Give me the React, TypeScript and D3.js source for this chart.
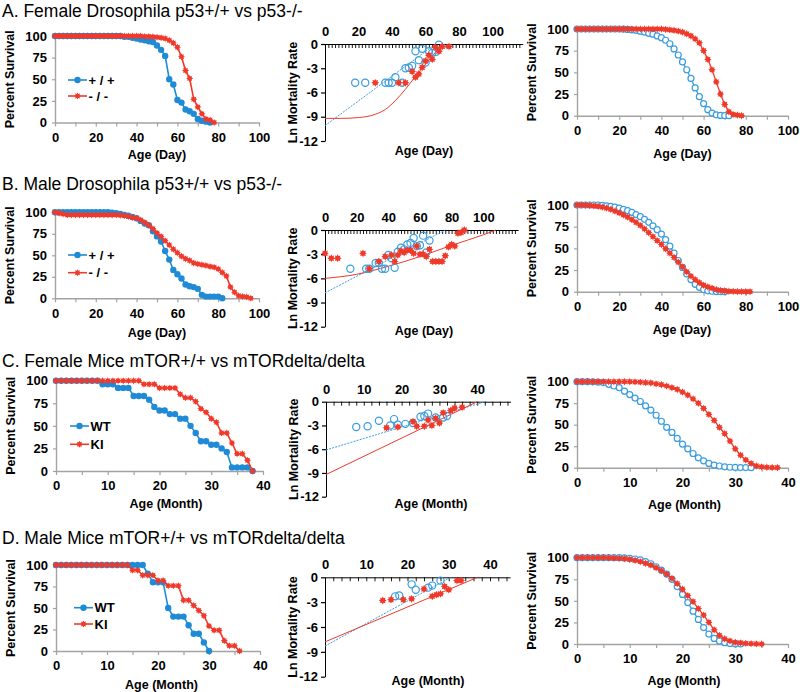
import { useRef, useEffect } from "react";
import * as d3 from "d3";

const BLUE = "#1f8ad6";
const LIGHT_BLUE = "#3a9de0";
const RED = "#ef3a2b";
const AXIS_GRAY = "#a3a3a3";
const FONT = "'Liberation Sans', Arial, Helvetica, sans-serif";

// ---- row titles and labels ----
const rowTitles = [
  "A. Female Drosophila p53+/+ vs p53-/-",
  "B. Male Drosophila p53+/+ vs p53-/-",
  "C. Female Mice mTOR+/+ vs mTORdelta/delta",
  "D. Male Mice mTOR+/+ vs mTORdelta/delta",
];
const flyLegend = ["+ / +", "- / -"];
const miceLegend = ["WT", "KI"];
const dayLabel = "Age (Day)";
const monthLabel = "Age (Month)";
const survivalTicks = [0, 25, 50, 75, 100];
const lnTicks = [0, -3, -6, -9, -12];

// sampling interval of the survival series (days for flies, months for mice)
const flyStep = 2;
const miceStep = 1;

// ---- Kaplan-Meier survival (left column), percent ----
const flyFemaleWtKM = [
  100, 100, 100, 100, 100, 100, 100, 100, 100, 100, 100, 100, 100, 100, 100, 100, 100,
  99, 99, 98, 97, 96, 95, 94, 93, 89, 84, 77, 50, 44, 26, 23, 15, 13, 10, 4, 2, 1, 0,
];
const flyFemaleKoKM = [
  100, 100, 100, 100, 100, 100, 100, 100, 100, 100, 100, 100, 100, 100, 100, 100, 100, 100, 100, 100, 100, 100,
  99.5, 99.5, 99, 98.5, 98, 97, 95, 92, 87, 76, 60, 51, 27, 18, 10, 4, 3, 0,
];
const flyMaleWtKM = [
  100, 100, 100, 100, 100, 100, 100, 100, 100, 100, 100, 100, 100, 100,
  99.5, 99, 98, 97, 96, 94.5, 93, 90, 87, 85, 78, 72, 66, 55, 45, 33, 28, 23, 16, 14, 13, 11, 4, 2, 2, 2, 2, 0,
];
const flyMaleKoKM = [
  100, 99, 98, 97, 97, 97, 97, 97, 97, 97, 97, 97, 97, 97, 97, 97,
  96.5, 96, 95, 94, 93, 91, 88, 85, 81, 76, 72, 67, 62, 57, 53, 49, 46, 44, 41, 40, 39, 38, 37, 36, 34, 30, 26, 13, 7, 3, 2, 1.5, 0,
];
const miceFemaleWtKM = [
  100, 100, 100, 100, 100, 100, 100, 100, 100, 96, 96, 96, 92, 92, 92, 83, 83, 83, 79, 71,
  67, 67, 63, 63, 58, 58, 50, 42, 33, 33, 29, 29, 25, 21, 4, 4, 4, 4, 0,
];
const miceFemaleKoKM = [
  100, 100, 100, 100, 100, 100, 100, 100, 100, 100, 100, 100, 100, 100, 100, 100, 100, 96, 96, 96,
  92, 92, 92, 92, 85, 81, 81, 77, 69, 65, 58, 54, 42, 42, 31, 19, 19, 12, 0,
];
const miceMaleWtKM = [
  100, 100, 100, 100, 100, 100, 100, 100, 100, 100, 100, 100, 100, 100, 100, 100, 100, 100,
  90, 80, 80, 80, 50, 40, 40, 40, 30, 20, 20, 10, 0,
];
const miceMaleKoKM = [
  100, 100, 100, 100, 100, 100, 100, 100, 100, 100, 100, 100, 100, 100, 100,
  94, 94, 88, 88, 88, 82, 82, 76, 76, 76, 59, 59, 53, 47, 41, 29, 24, 24, 12, 6, 6, 0,
];

// ---- fitted survival (right column), percent ----
const flyFemaleWtFit = [
  100, 100, 100, 100, 100, 100, 100, 100, 100, 100, 100,
  99.8, 99.5, 99, 98.5, 97.5, 96.5, 95, 94, 92, 90, 87, 83, 77, 70, 62, 53, 43, 32, 22, 14, 7, 3, 1, 0.3, 0, 0,
];
const flyFemaleKoFit = [
  100, 100, 100, 100, 100, 100, 100, 100, 100, 100, 100, 100, 100, 100, 100, 100, 100, 100, 100, 100, 100,
  99.5, 99, 98.5, 97.5, 96.5, 94.5, 92, 88.5, 84, 75, 65, 53, 39, 25, 13, 4.5, 1.5, 0.8, 0,
];
const flyMaleWtFit = [
  100, 100, 100, 100, 100, 100,
  99.5, 99, 98.5, 97.5, 96.5, 95, 93.5, 91.5, 89, 86.5, 83.5, 80, 76, 71.5, 66.5, 60, 52.5, 44.5, 36, 28, 20.5, 14, 8.5, 5, 2.5, 1, 0.5, 0.2, 0, 0,
];
const flyMaleKoFit = [
  100, 100, 99.8, 99.5, 99, 98.5, 97.5, 96.5, 95, 93, 91, 88.5, 86, 83, 80, 76.5, 72.5, 68, 63.5, 59, 54.5,
  49.5, 44.5, 39.5, 34, 28.5, 23, 18, 14, 10.5, 7.5, 5.5, 4, 2.5, 1.5, 1, 0.5, 0.3, 0.2, 0.1, 0, 0,
];
const miceFemaleWtFit = [
  100, 100, 100, 99.8, 99.5, 99, 97, 95, 93, 89, 85, 81, 77, 72, 67, 61, 54,
  47, 41, 34, 27.5, 22, 16.5, 11.5, 8, 5, 3, 2, 1, 0.5, 0.3, 0.2, 0.1, 0,
];
const miceFemaleKoFit = [
  100, 100, 100, 100, 100, 100, 100, 100, 100, 100, 100,
  99.8, 99.5, 99, 98.5, 97.5, 96.5, 95, 93, 91, 88, 84.5, 80, 75, 69, 62, 55, 47, 39.5, 31, 22, 14.5, 9, 5, 2, 1, 0.5, 0.2, 0,
];
const miceMaleWtFit = [
  100, 100, 100, 100, 100, 100, 100, 100, 100,
  99.7, 99.3, 98.5, 97.5, 95.5, 93, 89.5, 85.5, 81, 75, 66.5, 57.5, 48, 38, 28.5, 19, 11.5, 6.5, 3.5, 1.5, 0.6, 0.2, 0,
];
const miceMaleKoFit = [
  100, 100, 100, 100, 100, 100,
  99.8, 99.6, 99.3, 98.8, 98, 97, 95.5, 93.5, 91.5, 88.5, 85, 81, 76, 70, 63.5, 56, 49, 41, 33.5, 25, 16.5, 10, 6, 3.5, 2, 1.2, 0.7, 0.4, 0.2, 0,
];

// ---- ln mortality rate (middle column) ----
const flyFemaleWtMortAge = [18, 24, 36, 38, 40, 42, 46, 48, 50, 52, 54, 56, 58, 60, 62, 64, 66, 68];
const flyFemaleWtMortLn = [-4.8, -4.8, -4.8, -4.8, -4.8, -4.1, -4.8, -3.0, -2.9, -2.7, -0.9, -2.0, -0.6, -2.3, -0.9, -1.1, -1.0, -0.1];
const flyFemaleKoMortAge = [30, 44, 48, 52, 54, 56, 58, 60, 62, 64, 66, 68, 70, 74];
const flyFemaleKoMortLn = [-4.8, -4.8, -4.8, -3.4, -4.1, -3.7, -2.9, -2.1, -1.4, -1.9, -0.4, -0.9, -0.3, -0.3];
const flyFemaleWtLineAge = [0, 66];
const flyFemaleWtLineLn = [-10.1, 0];
const flyFemaleKoLineAge = [0, 10, 20, 30, 36, 42, 48, 54, 60, 66, 70];
const flyFemaleKoLineLn = [-9.2, -9.2, -9.1, -8.7, -8.1, -7.0, -5.6, -4.0, -2.5, -1.0, 0];

const flyMaleWtMortAge = [16, 26, 28, 32, 34, 36, 38, 40, 42, 44, 46, 48, 50, 52, 54, 56, 58, 60, 62, 64, 66];
const flyMaleWtMortLn = [-4.8, -4.8, -4.8, -4.1, -4.1, -4.8, -4.8, -3.1, -3.5, -4.7, -2.7, -2.2, -2.4, -1.8, -1.6, -1.0, -2.0, -1.9, -0.7, -2.8, -1.3];
const flyMaleKoMortAge = [0, 4, 8, 24, 28, 34, 38, 42, 44, 46, 48, 50, 52, 54, 56, 58, 60, 62, 64, 66, 68, 70, 72, 74, 76, 78, 80, 82, 84, 86, 88];
const flyMaleKoMortLn = [
  -2.9, -3.5, -3.5, -2.9, -4.8, -3.9, -3.3, -3.1, -3.9, -3.1, -2.6, -2.8, -2.5, -2.5, -2.9, -2.0,
  -3.0, -3.0, -3.3, -2.4, -3.9, -3.9, -3.9, -3.9, -3.2, -2.1, -1.8, -2.0, -0.4, -0.3, 0,
];
const flyMaleWtLineAge = [0, 76];
const flyMaleWtLineLn = [-7.8, 0];
const flyMaleKoLineAge = [0, 20, 40, 60, 80, 100, 108];
const flyMaleKoLineLn = [-6.0, -5.5, -4.5, -3.3, -1.9, -0.6, 0];

const miceFemaleWtMortAge = [8, 11, 14, 17, 18, 19, 21, 23, 25, 26, 27, 29, 31, 32];
const miceFemaleWtMortLn = [-3.2, -3.1, -2.4, -3.0, -2.2, -2.9, -2.8, -2.7, -1.9, -1.8, -1.5, -2.0, -2.0, -1.8];
const miceFemaleKoMortAge = [16, 19, 23, 24, 26, 27, 28, 29, 30, 31, 33, 34, 36];
const miceFemaleKoMortLn = [-3.3, -3.2, -2.5, -3.1, -3.1, -2.3, -3.0, -2.1, -2.7, -1.4, -1.1, -0.8, -0.7];
const miceFemaleWtLineAge = [0, 42];
const miceFemaleWtLineLn = [-6.1, 0];
const miceFemaleKoLineAge = [0, 40];
const miceFemaleKoLineLn = [-9.2, 0];

const miceMaleWtMortAge = [17, 18, 21, 22, 25, 26, 28];
const miceMaleWtMortLn = [-2.3, -2.2, -0.85, -1.5, -1.25, -1.0, -0.4];
const miceMaleKoMortAge = [14, 16, 19, 21, 24, 26, 27, 28, 29, 30, 32, 33];
const miceMaleKoMortLn = [-2.8, -2.7, -2.7, -2.6, -1.4, -2.3, -2.1, -2.0, -1.1, -1.5, -0.4, -0.4];
const miceMaleWtLineAge = [0, 30.5];
const miceMaleWtLineLn = [-8.3, 0];
const miceMaleKoLineAge = [0, 37];
const miceMaleKoLineLn = [-7.8, 0];

// ---- layout ----
const titleBase = [17, 189.5, 366.5, 543.5];

const kmBoxes = [
  { left: 55, right: 259, top: 36, bottom: 122.5, xMax: 100, minor: 10, major: 20, tx: 157, ty: 155, lx: 68, ly: [80, 96] },
  { left: 55, right: 259, top: 212.3, bottom: 298.3, xMax: 100, minor: 10, major: 20, tx: 157, ty: 332.7, lx: 68, ly: [255, 272.7] },
  { left: 56, right: 263, top: 380.7, bottom: 471, xMax: 40, minor: 5, major: 10, tx: 166, ty: 503.3, lx: 70, ly: [426, 444.3] },
  { left: 56, right: 260, top: 565, bottom: 651, xMax: 40, minor: 5, major: 10, tx: 161.5, ty: 685, lx: 74, ly: [607.7, 624] },
];

const mortBoxes = [
  { left: 325, right: 522.7, top: 44, bottom: 141, xMax: 118, minor: 2, major: 20, labelMax: 100, tx: 424, ty: 151 },
  { left: 325, right: 518.1, top: 230, bottom: 326.7, xMax: 122, minor: 2, major: 20, labelMax: 100, tx: 424, ty: 331 },
  { left: 326, right: 510.5, top: 401.7, bottom: 496.7, xMax: 48.8, minor: 2, major: 10, labelMax: 40, tx: 431, ty: 503.3 },
  { left: 325, right: 510, top: 577.3, bottom: 676.7, xMax: 44.85, minor: 2, major: 10, labelMax: 40, tx: 428, ty: 680.7 },
];

const fitBoxes = [
  { left: 577, right: 788, top: 29, bottom: 115.7, xMax: 100, minor: 10, major: 20, tx: 682.5, ty: 153.3 },
  { left: 577, right: 788, top: 205, bottom: 291.7, xMax: 100, minor: 10, major: 20, tx: 682, ty: 330 },
  { left: 577, right: 788, top: 381.7, bottom: 467.7, xMax: 40, minor: 5, major: 10, tx: 684.5, ty: 505 },
  { left: 577, right: 788, top: 557.7, bottom: 644, xMax: 40, minor: 5, major: 10, tx: 684, ty: 680.7 },
];

// heavy 8-point asterisk used for the red series
const starPath = (r: number) => {
  const p = d3.path();
  for (let i = 0; i < 16; i++) {
    const a = (i * Math.PI) / 8 - Math.PI / 2;
    const rr = i % 2 ? r * 0.62 : r;
    if (i === 0) p.moveTo(rr * Math.cos(a), rr * Math.sin(a));
    else p.lineTo(rr * Math.cos(a), rr * Math.sin(a));
  }
  p.closePath();
  return p.toString();
};

const styleAxis = (g: any, color: string) => {
  g.attr("font-family", FONT).attr("font-size", 13).attr("font-weight", "bold");
  g.selectAll(".domain").attr("stroke", color).attr("stroke-width", 1.4);
  g.selectAll(".tick line").attr("stroke", color).attr("stroke-width", 1.2);
  g.selectAll("text").attr("fill", "#000");
};

const addText = (svg: any, text: string, x: number, y: number, rotate = false) =>
  svg
    .append("text")
    .attr("transform", rotate ? `translate(${x},${y}) rotate(-90)` : `translate(${x},${y})`)
    .attr("text-anchor", "middle")
    .attr("dy", "0.35em")
    .attr("font-family", FONT)
    .attr("font-size", 12.5)
    .attr("font-weight", "bold")
    .text(text);

// survival frame shared by left and right columns
const survivalFrame = (svg: any, box: any, xLabel: string) => {
  const x = d3.scaleLinear().domain([0, box.xMax]).range([box.left, box.right]);
  const y = d3.scaleLinear().domain([0, 100]).range([box.bottom, box.top]);

  const xAxis = d3
    .axisBottom(x)
    .tickValues(d3.range(0, box.xMax + 0.01, box.minor))
    .tickSizeInner(4)
    .tickSizeOuter(0)
    .tickPadding(6)
    .tickFormat((d: any) => (d % box.major === 0 ? String(d) : ""));
  const gx = svg.append("g").attr("transform", `translate(0,${box.bottom})`).call(xAxis);
  styleAxis(gx, AXIS_GRAY);

  const yAxis = d3.axisLeft(y).tickValues(survivalTicks).tickSizeInner(3).tickSizeOuter(0).tickPadding(5).tickFormat(String);
  const gy = svg.append("g").attr("transform", `translate(${box.left},0)`).call(yAxis);
  styleAxis(gy, AXIS_GRAY);

  addText(svg, xLabel, box.tx, box.ty);
  addText(svg, "Percent Survival", box.left - 45, (box.top + box.bottom) / 2, true);
  return { x, y };
};

const drawKM = (svg: any, box: any, wt: number[], ko: number[], step: number, names: string[], xLabel: string) => {
  const g = svg.append("g");
  const { x, y } = survivalFrame(g, box, xLabel);
  const line = d3
    .line<number>()
    .x((d, i) => x(i * step))
    .y((d) => y(d));

  g.append("path").datum(wt).attr("d", line).attr("fill", "none").attr("stroke", BLUE).attr("stroke-width", 1.6);
  g.selectAll(null)
    .data(wt)
    .enter()
    .append("circle")
    .attr("cx", (d: number, i: number) => x(i * step))
    .attr("cy", (d: number) => y(d))
    .attr("r", 3.2)
    .attr("fill", BLUE);

  g.append("path").datum(ko).attr("d", line).attr("fill", "none").attr("stroke", RED).attr("stroke-width", 1.6);
  g.selectAll(null)
    .data(ko)
    .enter()
    .append("path")
    .attr("d", starPath(3.5))
    .attr("transform", (d: number, i: number) => `translate(${x(i * step)},${y(d)})`)
    .attr("fill", RED);

  // legend
  const colors = [BLUE, RED];
  names.forEach((name, i) => {
    const ly = box.ly[i];
    g.append("line")
      .attr("x1", box.lx)
      .attr("x2", box.lx + 19)
      .attr("y1", ly)
      .attr("y2", ly)
      .attr("stroke", colors[i])
      .attr("stroke-width", 1.6);
    if (i === 0) g.append("circle").attr("cx", box.lx + 9.5).attr("cy", ly).attr("r", 3.2).attr("fill", BLUE);
    else g.append("path").attr("d", starPath(3.5)).attr("transform", `translate(${box.lx + 9.5},${ly})`).attr("fill", RED);
    g.append("text")
      .attr("x", box.lx + 20.5)
      .attr("y", ly)
      .attr("dy", "0.36em")
      .attr("font-family", FONT)
      .attr("font-size", 13)
      .attr("font-weight", "bold")
      .text(name);
  });
};

const drawFit = (svg: any, box: any, wt: number[], ko: number[], step: number, xLabel: string) => {
  const g = svg.append("g");
  const { x, y } = survivalFrame(g, box, xLabel);
  const line = d3
    .line<number>()
    .x((d, i) => x(i * step))
    .y((d) => y(d));

  g.append("path").datum(wt).attr("d", line).attr("fill", "none").attr("stroke", LIGHT_BLUE).attr("stroke-width", 1.3);
  g.selectAll(null)
    .data(wt)
    .enter()
    .append("circle")
    .attr("cx", (d: number, i: number) => x(i * step))
    .attr("cy", (d: number) => y(d))
    .attr("r", 3)
    .attr("fill", "#fff")
    .attr("stroke", LIGHT_BLUE)
    .attr("stroke-width", 1.2);

  g.append("path").datum(ko).attr("d", line).attr("fill", "none").attr("stroke", RED).attr("stroke-width", 1.3);
  g.selectAll(null)
    .data(ko)
    .enter()
    .append("path")
    .attr("d", starPath(3.7))
    .attr("transform", (d: number, i: number) => `translate(${x(i * step)},${y(d)})`)
    .attr("fill", RED);
};

const drawMort = (svg: any, box: any, s: any, xLabel: string) => {
  const g = svg.append("g");
  const x = d3.scaleLinear().domain([0, box.xMax]).range([box.left, box.right]);
  const y = d3.scaleLinear().domain([-12, 0]).range([box.bottom, box.top]);

  const xAxis = d3
    .axisTop(x)
    .tickValues(d3.range(0, box.xMax, box.minor))
    .tickSizeInner(-4)
    .tickSizeOuter(0)
    .tickPadding(8)
    .tickFormat((d: any) => (d % box.major === 0 && d <= box.labelMax ? String(d) : ""));
  const gx = g.append("g").attr("transform", `translate(0,${y(0)})`).call(xAxis);
  styleAxis(gx, "#000");
  gx.selectAll(".domain").attr("stroke-width", 1);
  gx.selectAll(".tick line").attr("stroke-width", 0.9);

  const yAxis = d3.axisLeft(y).tickValues(lnTicks).tickSizeInner(4).tickSizeOuter(0).tickPadding(3).tickFormat(String);
  const gy = g.append("g").attr("transform", `translate(${box.left},0)`).call(yAxis);
  styleAxis(gy, "#000");
  gy.selectAll(".domain").attr("stroke-width", 1);

  addText(g, xLabel, box.tx, box.ty);
  addText(g, "Ln Mortality Rate", box.left - 32, (box.top + box.bottom) / 2, true);

  const line = d3
    .line<[number, number]>()
    .x((d) => x(d[0]))
    .y((d) => y(d[1]))
    .curve(d3.curveMonotoneX);

  g.append("path")
    .datum(d3.zip(s.wtLineAge, s.wtLineLn))
    .attr("d", line)
    .attr("fill", "none")
    .attr("stroke", LIGHT_BLUE)
    .attr("stroke-width", 1)
    .attr("stroke-dasharray", "2,1.2");
  g.append("path")
    .datum(d3.zip(s.koLineAge, s.koLineLn))
    .attr("d", line)
    .attr("fill", "none")
    .attr("stroke", RED)
    .attr("stroke-width", 1);

  g.selectAll(null)
    .data(d3.zip(s.wtAge, s.wtLn))
    .enter()
    .append("circle")
    .attr("cx", (d: number[]) => x(d[0]))
    .attr("cy", (d: number[]) => y(d[1]))
    .attr("r", 3.6)
    .attr("fill", "none")
    .attr("stroke", LIGHT_BLUE)
    .attr("stroke-width", 1.2);

  g.selectAll(null)
    .data(d3.zip(s.koAge, s.koLn))
    .enter()
    .append("path")
    .attr("d", starPath(3.9))
    .attr("transform", (d: number[]) => `translate(${x(d[0])},${y(d[1])})`)
    .attr("fill", RED);
};

const App = () => {
  const svgRef = useRef(null);

  useEffect(() => {
    const svg = d3.select(svgRef.current);
    svg.selectAll("*").remove();

    rowTitles.forEach((t, i) => {
      svg
        .append("text")
        .attr("x", 2)
        .attr("y", titleBase[i])
        .attr("font-family", FONT)
        .attr("font-size", 17.5)
        .text(t);
    });

    drawKM(svg, kmBoxes[0], flyFemaleWtKM, flyFemaleKoKM, flyStep, flyLegend, dayLabel);
    drawKM(svg, kmBoxes[1], flyMaleWtKM, flyMaleKoKM, flyStep, flyLegend, dayLabel);
    drawKM(svg, kmBoxes[2], miceFemaleWtKM, miceFemaleKoKM, miceStep, miceLegend, monthLabel);
    drawKM(svg, kmBoxes[3], miceMaleWtKM, miceMaleKoKM, miceStep, miceLegend, monthLabel);

    drawMort(
      svg,
      mortBoxes[0],
      {
        wtAge: flyFemaleWtMortAge, wtLn: flyFemaleWtMortLn, koAge: flyFemaleKoMortAge, koLn: flyFemaleKoMortLn,
        wtLineAge: flyFemaleWtLineAge, wtLineLn: flyFemaleWtLineLn, koLineAge: flyFemaleKoLineAge, koLineLn: flyFemaleKoLineLn,
      },
      dayLabel
    );
    drawMort(
      svg,
      mortBoxes[1],
      {
        wtAge: flyMaleWtMortAge, wtLn: flyMaleWtMortLn, koAge: flyMaleKoMortAge, koLn: flyMaleKoMortLn,
        wtLineAge: flyMaleWtLineAge, wtLineLn: flyMaleWtLineLn, koLineAge: flyMaleKoLineAge, koLineLn: flyMaleKoLineLn,
      },
      dayLabel
    );
    drawMort(
      svg,
      mortBoxes[2],
      {
        wtAge: miceFemaleWtMortAge, wtLn: miceFemaleWtMortLn, koAge: miceFemaleKoMortAge, koLn: miceFemaleKoMortLn,
        wtLineAge: miceFemaleWtLineAge, wtLineLn: miceFemaleWtLineLn, koLineAge: miceFemaleKoLineAge, koLineLn: miceFemaleKoLineLn,
      },
      monthLabel
    );
    drawMort(
      svg,
      mortBoxes[3],
      {
        wtAge: miceMaleWtMortAge, wtLn: miceMaleWtMortLn, koAge: miceMaleKoMortAge, koLn: miceMaleKoMortLn,
        wtLineAge: miceMaleWtLineAge, wtLineLn: miceMaleWtLineLn, koLineAge: miceMaleKoLineAge, koLineLn: miceMaleKoLineLn,
      },
      monthLabel
    );

    drawFit(svg, fitBoxes[0], flyFemaleWtFit, flyFemaleKoFit, flyStep, dayLabel);
    drawFit(svg, fitBoxes[1], flyMaleWtFit, flyMaleKoFit, flyStep, dayLabel);
    drawFit(svg, fitBoxes[2], miceFemaleWtFit, miceFemaleKoFit, miceStep, monthLabel);
    drawFit(svg, fitBoxes[3], miceMaleWtFit, miceMaleKoFit, miceStep, monthLabel);
  }, []);

  return (
    <div style={{ position: "absolute", left: 0, top: 0, background: "#fff" }}>
      <svg ref={svgRef} width="800" height="692" style={{ display: "block" }}></svg>
    </div>
  );
};

export default App;
